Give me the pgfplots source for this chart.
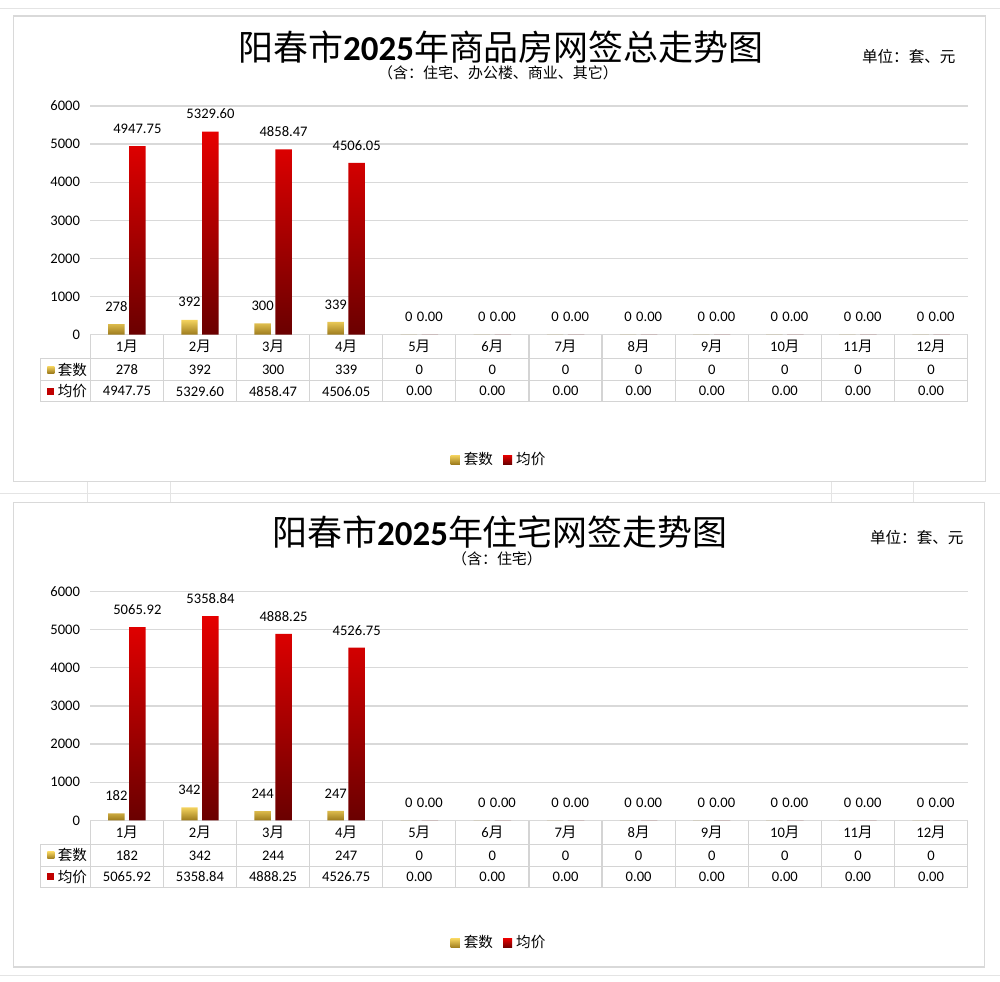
\documentclass[border=0pt]{standalone}
\usepackage{pgfplots}
\pgfplotsset{compat=1.18}
\usepackage{pgfplotstable}
\usepackage{fontspec}
\setmainfont{Carlito}
\newfontfamily\cjk{Noto Sans CJK SC}

\definecolor{gridc}{HTML}{D9D9D9}
\definecolor{tblc}{HTML}{D4D4D4}
\definecolor{goldT}{HTML}{F4D35E}
\definecolor{goldB}{HTML}{9C7A1C}
\definecolor{redT}{HTML}{E60000}
\definecolor{redB}{HTML}{6A0000}
\definecolor{keyred}{HTML}{C00000}

\newcommand\fs{\fontsize{7.3pt}{8.5pt}\selectfont}

\pgfplotstableread{
x m n p
0 1 278 4947.75
1 2 392 5329.60
2 3 300 4858.47
3 4 339 4506.05
4 5 0 0
5 6 0 0
6 7 0 0
7 8 0 0
8 9 0 0
9 10 0 0
10 11 0 0
11 12 0 0
}\dataA

\pgfplotstableread{
x m n p
0 1 182 5065.92
1 2 342 5358.84
2 3 244 4888.25
3 4 247 4526.75
4 5 0 0
5 6 0 0
6 7 0 0
7 8 0 0
8 9 0 0
9 10 0 0
10 11 0 0
11 12 0 0
}\dataB

\pgfplotsset{
  /pgf/number format/assume math mode=true,
  /pgf/number format/set thousands separator={},
  panel/.style={
    scale only axis, width=439pt, height=114.5pt,
    xmin=-0.5, xmax=11.5, ymin=0, ymax=6000,
    ytick={0,1000,...,6000}, xtick=\empty,
    ymajorgrids, grid style={gridc, line width=0.6pt},
    axis line style={draw=none}, major tick length=0pt,
    tick label style={font=\fs}, yticklabel style={inner sep=0pt, xshift=-5pt},
    clip=false,
    legend columns=2,
    legend style={draw=none, fill=none, font=\fs, at={(0.467,-0.546)}, anchor=center,
      /tikz/every even column/.append style={column sep=3pt}},
    anchor=south west,
  },
  goldbar/.style={ybar, bar width=8.25pt, bar shift=-5.25pt, draw=none,
    top color=goldT, bottom color=goldB,
    nodes near coords={\pgfmathprintnumber[fixed,precision=0]{\pgfplotspointmeta}},
    nodes near coords style={anchor=center, xshift=-5.25pt, yshift=8.75pt, font=\fs, text=black},
    legend image code/.code={\shade[top color=goldT, bottom color=goldB] (0pt,-2.3pt) rectangle (4.6pt,2.3pt);}},
  redbar/.style={ybar, bar width=8.25pt, bar shift=5.25pt, draw=none,
    top color=redT, bottom color=redB,
    nodes near coords={\pgfmathprintnumber[fixed,fixed zerofill,precision=2]{\pgfplotspointmeta}},
    nodes near coords style={anchor=center, xshift=5.25pt, yshift=8.75pt, font=\fs, text=black},
    legend image code/.code={\fill[keyred] (0pt,-2.3pt) rectangle (4.6pt,2.3pt);}},
  rowlab/.style={draw=none, mark=none, forget plot, point meta=explicit,
    nodes near coords style={anchor=center, font=\fs, text=black, yshift=#1}},
}

\begin{document}
\begin{tikzpicture}
\begin{scope}[x=0.5pt, y=-0.5pt]
  \fill[white] (0,0) rectangle (1000,982);
  % spreadsheet background lines
  \draw[gridc!70, line width=0.4pt] (0,494) -- (1000,494);
  \draw[gridc!70, line width=0.4pt] (0,8) -- (1000,8);
  \draw[gridc!70, line width=0.4pt] (0,976) -- (1000,976);
  \foreach \xx in {87,170,832,914} {\draw[gridc!70, line width=0.4pt] (\xx,482) -- (\xx,503);}
  % panel borders
  \draw[gridc, line width=0.8pt, fill=white] (13,16) rectangle (986,482);
  \draw[gridc, line width=0.8pt, fill=white] (13,503) rectangle (985,968);
  % titles
  \node at (501,47) {\fontsize{17.5pt}{20pt}\selectfont\cjk 阳春市{\fontspec{Carlito}\bfseries 2025}年商品房网签总走势图};
  \node at (498,73) {\fontsize{7.5pt}{9pt}\selectfont\cjk （含：住宅、办公楼、商业、其它）};
  \node[anchor=east] at (963,57) {\fontsize{7.8pt}{9pt}\selectfont\cjk 单位：套、元};
  \node at (500,532) {\fontsize{17.5pt}{20pt}\selectfont\cjk 阳春市{\fontspec{Carlito}\bfseries 2025}年住宅网签走势图};
  \node at (497,559) {\fontsize{7.5pt}{9pt}\selectfont\cjk （含：住宅）};
  \node[anchor=east] at (971,538) {\fontsize{7.8pt}{9pt}\selectfont\cjk 单位：套、元};
  % data tables grid
  \foreach \yy in {335,821} {
    \draw[tblc, line width=0.6pt] (90,\yy) -- (968,\yy);
    \foreach \dy in {24,46,67} {\draw[tblc, line width=0.6pt] (40,\yy+\dy) -- (968,\yy+\dy);}
    \draw[tblc, line width=0.6pt] (40,\yy+24) -- (40,\yy+67);
    \foreach \k in {0,...,12} {\draw[tblc, line width=0.6pt] ({90+\k*73.1667},\yy) -- ({90+\k*73.1667},\yy+67);}
    \shade[top color=goldT, bottom color=goldB] (47,\yy+31.5) rectangle (54,\yy+38.5);
    \node[anchor=west, inner sep=0pt] at (57,\yy+35) {\fs\cjk 套数};
    \fill[keyred] (47,\yy+53) rectangle (54,\yy+60);
    \node[anchor=west, inner sep=0pt] at (57,\yy+56.5) {\fs\cjk 均价};
  }
\end{scope}

% ---------- top panel ----------
\begin{axis}[panel, at={(45pt,-167.5pt)}]
  \addplot[goldbar] table[x=x, y=n] {\dataA};
  \addlegendentry{\cjk 套数}
  \addplot[redbar] table[x=x, y=p] {\dataA};
  \addlegendentry{\cjk 均价}
  \addplot[rowlab=-6pt, nodes near coords={\pgfmathprintnumber[fixed,precision=0]{\pgfplotspointmeta}{\cjk 月}}] table[x=x, y expr=0, meta=m] {\dataA};
  \addplot[rowlab=-17.5pt, nodes near coords={\pgfmathprintnumber[fixed,precision=0]{\pgfplotspointmeta}}] table[x=x, y expr=0, meta=n] {\dataA};
  \addplot[rowlab=-28.25pt, nodes near coords={\pgfmathprintnumber[fixed,fixed zerofill,precision=2]{\pgfplotspointmeta}}] table[x=x, y expr=0, meta=p] {\dataA};
\end{axis}

% ---------- bottom panel ----------
\begin{axis}[panel, at={(45pt,-410.5pt)}, legend style={at={(0.467,-0.537)}}]
  \addplot[goldbar] table[x=x, y=n] {\dataB};
  \addlegendentry{\cjk 套数}
  \addplot[redbar] table[x=x, y=p] {\dataB};
  \addlegendentry{\cjk 均价}
  \addplot[rowlab=-6pt, nodes near coords={\pgfmathprintnumber[fixed,precision=0]{\pgfplotspointmeta}{\cjk 月}}] table[x=x, y expr=0, meta=m] {\dataB};
  \addplot[rowlab=-17.5pt, nodes near coords={\pgfmathprintnumber[fixed,precision=0]{\pgfplotspointmeta}}] table[x=x, y expr=0, meta=n] {\dataB};
  \addplot[rowlab=-28.25pt, nodes near coords={\pgfmathprintnumber[fixed,fixed zerofill,precision=2]{\pgfplotspointmeta}}] table[x=x, y expr=0, meta=p] {\dataB};
\end{axis}
\end{tikzpicture}
\end{document}
